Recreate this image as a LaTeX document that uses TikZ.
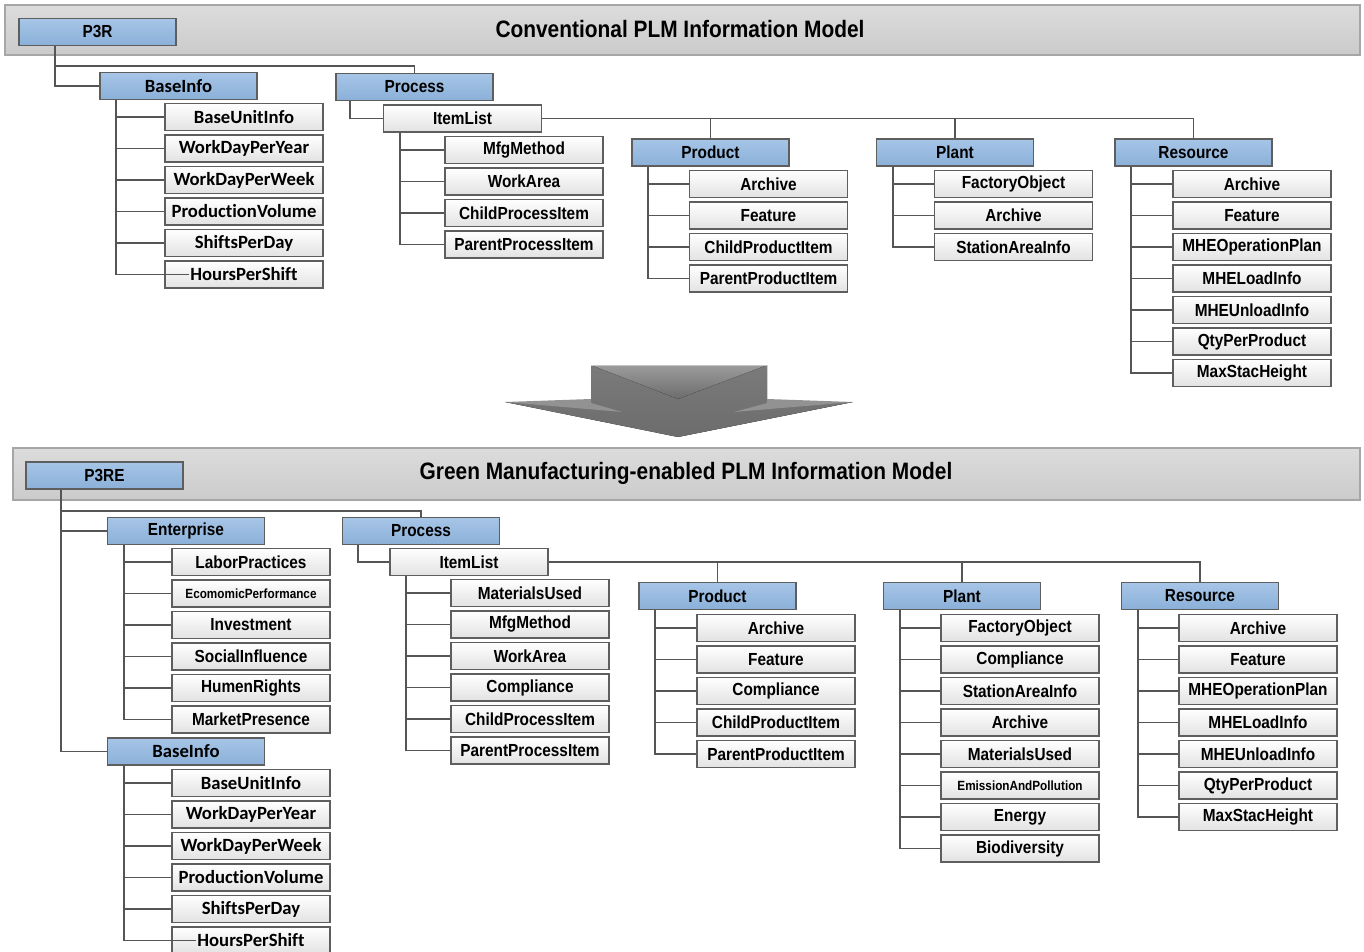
\documentclass[tikz,border=0pt]{standalone}
\usepackage{fontspec}
\setmainfont{Carlito}[Ligatures=NoCommon]
\newfontfamily\narrowf{Liberation Sans}[FakeStretch=0.88]
\usetikzlibrary{calc}
\definecolor{bandtop}{HTML}{DCDCDC}
\definecolor{bandbot}{HTML}{CBCBCB}
\definecolor{bandline}{HTML}{A6A6A6}
\definecolor{bluetop}{HTML}{A6C5E7}
\definecolor{bluebot}{HTML}{8BB0D8}
\definecolor{boxline}{HTML}{5E5E5E}
\definecolor{wirecol}{HTML}{555555}
\definecolor{kidtop}{HTML}{FFFFFF}
\definecolor{kidbot}{HTML}{E2E2E2}
\definecolor{arrowbody}{HTML}{6C6C6C}
\definecolor{arrowlight}{HTML}{9C9C9C}
\definecolor{arrowwing}{HTML}{929292}
\newcommand\kidfont{\fontsize{13.1}{15}\selectfont\narrowf\bfseries}
\newcommand\calfont{\fontsize{14}{16}\selectfont\bfseries}
\newcommand\smallk{\fontsize{10}{12}\selectfont}
% a column of leaf boxes hanging from a parent box
% #1 parent, #2 name prefix, #3 x centre, #4 first y, #5 extra style, #6 labels
\newcommand\kidcol[6]{%
  \foreach \t [count=\i] in {#6} {
    \node[kbox,#5] (#2\i) at (#3,{#4+31.5*(\i-1)}) {\t};
    \draw[wire] (#1.south west) ++(17,0) |- (#2\i.west);
  }}
\tikzset{
  hbox/.style={draw=boxline, line width=1.1pt, top color=bluetop, bottom color=bluebot,
    minimum width=118pt, minimum height=20pt, inner sep=0pt, font=\kidfont},
  kbox/.style={draw=boxline, line width=1.1pt, top color=kidtop, bottom color=kidbot,
    minimum width=118.5pt, minimum height=20.25pt, inner sep=0pt, font=\kidfont},
  cal/.style={font=\calfont},
  wire/.style={draw=wirecol, line width=1.4pt},
  band/.style={draw=bandline, line width=1pt, top color=bandtop, bottom color=bandbot},
  ttl/.style={font=\fontsize{17.8}{20}\selectfont\narrowf\bfseries}
}
\begin{document}
\begin{tikzpicture}[x=0.75pt,y=-0.75pt]
\useasboundingbox (0,0) rectangle (1364,952);
\clip (0,0) rectangle (1364,952);

% ---------------- conventional model ----------------
\draw[band] (5,5) rectangle (1360,55);
\node[ttl] (t1) at (680,29) {Conventional PLM Information Model};
\node[hbox] (p3r) at (97.5,32) {P3R};

\node[hbox,cal] (tbi) at (178.5,86) {BaseInfo};
\node[hbox] (tpr) at (414.5,87) {Process};
\node[kbox] (til) at (462.5,118.5) {ItemList};
\node[hbox] (tpd) at (710.5,152.5) {Product};
\node[hbox] (tpl) at (955,152.5) {Plant};
\node[hbox] (trs) at (1193.5,152.5) {Resource};

\draw[wire] (p3r.south west) ++(37,0) |- (tbi.west);
\draw[wire] (p3r.south west) ++(37,0) -- ++(0,20) -| (tpr.north);
\draw[wire] (tpr.south west) ++(15,0) |- (til.west);
\draw[wire] (til.east) -| (tpd.north);
\draw[wire] (til.east) -| (tpl.north);
\draw[wire] (til.east) -| (trs.north);

\kidcol{tbi}{tb}{244}{117}{cal}{BaseUnitInfo,WorkDayPerYear,WorkDayPerWeek,ProductionVolume,ShiftsPerDay,HoursPerShift}
\draw[wire] (tb6.west) -- ++(25,0);
\kidcol{til}{ti}{524}{150}{}{MfgMethod,WorkArea,ChildProcessItem,ParentProcessItem}
\kidcol{tpd}{td}{768.5}{184}{}{Archive,Feature,ChildProductItem,ParentProductItem}
\kidcol{tpl}{tp}{1013.5}{184}{}{FactoryObject,Archive,StationAreaInfo}
\kidcol{trs}{tr}{1252}{184}{}{Archive,Feature,MHEOperationPlan,MHELoadInfo,MHEUnloadInfo,QtyPerProduct,MaxStacHeight}

% ---------------- transition arrow ----------------
\fill[top color=arrowbody!90!white, bottom color=arrowbody]
  (591,365) -- (767,365) -- (767,402) -- (853,402) -- (678,437) -- (505,402) -- (591,402) -- cycle;
\fill[top color=arrowlight, bottom color=arrowbody] (591,365) -- (767,365) -- (678,399) -- cycle;
\fill[arrowwing] (505,402) -- (591,399) -- (591,403) -- (622,412) -- cycle;
\fill[arrowwing] (853,402) -- (767,399) -- (767,403) -- (734,412) -- cycle;
\draw[gray!45, line width=0.8pt] (591,365.5) -- (767,365.5);

% ---------------- green manufacturing model ----------------
\draw[band] (13,448) rectangle (1360,500);
\node[ttl] (t2) at (686,473) {Green Manufacturing-enabled PLM Information Model};
\node[hbox] (p3re) at (104.5,475.5) {P3RE};

\node[hbox] (ben) at (186,531) {Enterprise};
\node[hbox,cal] (bbi) at (186,751.5) {BaseInfo};
\node[hbox] (bpr) at (421,531) {Process};
\node[kbox] (bil) at (469,562) {ItemList};
\node[hbox] (bpd) at (717.5,596) {Product};
\node[hbox] (bpl) at (962,596) {Plant};
\node[hbox] (brs) at (1200,596) {Resource};

\draw[wire] (p3re.south west) ++(36,0) |- (ben.west);
\draw[wire] (p3re.south west) ++(36,0) |- (bbi.west);
\draw[wire] (p3re.south west) ++(36,0) -- ++(0,21) -| (bpr.north);
\draw[wire] (bpr.south west) ++(16,0) |- (bil.west);
\draw[wire] (bil.east) -| (bpd.north);
\draw[wire] (bil.east) -| (bpl.north);
\draw[wire] (bil.east) -| (brs.north);

\kidcol{ben}{be}{251}{562}{}{LaborPractices,{\smallk EcomomicPerformance},Investment,SocialInfluence,HumenRights,MarketPresence}
\kidcol{bbi}{bb}{251}{783}{cal}{BaseUnitInfo,WorkDayPerYear,WorkDayPerWeek,ProductionVolume,ShiftsPerDay,HoursPerShift}
\draw[wire] (bb6.west) -- ++(25,0);
\kidcol{bil}{bi}{530}{593}{}{MaterialsUsed,MfgMethod,WorkArea,Compliance,ChildProcessItem,ParentProcessItem}
\kidcol{bpd}{bd}{776}{628}{}{Archive,Feature,Compliance,ChildProductItem,ParentProductItem}
\kidcol{bpl}{bp}{1020}{628}{}{FactoryObject,Compliance,StationAreaInfo,Archive,MaterialsUsed,{\smallk EmissionAndPollution},Energy,Biodiversity}
\kidcol{brs}{br}{1258}{628}{}{Archive,Feature,MHEOperationPlan,MHELoadInfo,MHEUnloadInfo,QtyPerProduct,MaxStacHeight}
\end{tikzpicture}
\end{document}
